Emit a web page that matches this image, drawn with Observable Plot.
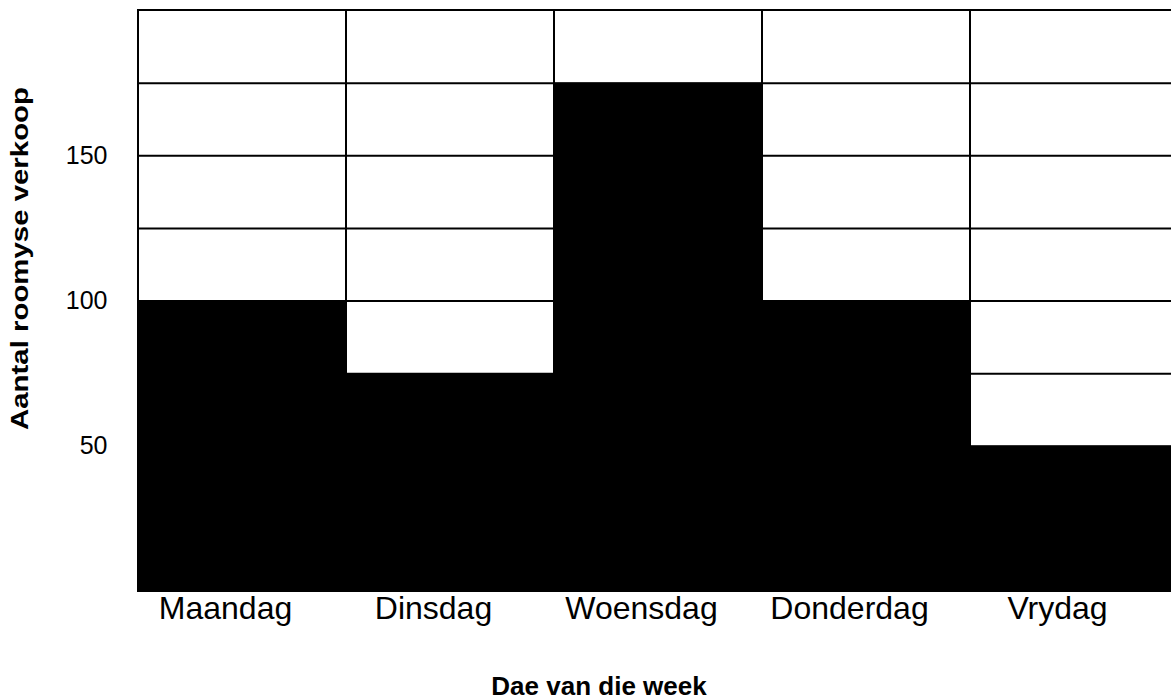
<!DOCTYPE html>
<html><head><meta charset="utf-8">
<script src="https://cdn.jsdelivr.net/npm/d3@7"></script>
<script src="https://cdn.jsdelivr.net/npm/@observablehq/plot@0.6"></script>
<style>html,body{margin:0;padding:0;background:#fff;overflow:hidden;}</style>
</head><body><div id="chart"></div>
<script>
const days = ["Maandag", "Dinsdag", "Woensdag", "Donderdag", "Vrydag"];
const sales = [100, 75, 175, 100, 50];
const yTickValues = [50, 100, 150];
const gridValues = [25, 50, 75, 100, 125, 150, 175];
const yMax = 200;
const xTitle = "Dae van die week";
const yTitle = "Aantal roomyse verkoop";

const data = days.map((d, i) => ({day: d, value: sales[i]}));

const chart = Plot.plot({
  width: 1171, height: 699,
  marginTop: 10, marginBottom: 108, marginLeft: 138, marginRight: 0,
  style: {fontFamily: "'Liberation Sans', Arial, sans-serif", background: "white", color: "black", overflow: "hidden"},
  x: {type: "band", domain: days, range: [138, 1178], padding: 0},
  y: {domain: [0, yMax]},
  marks: [
    Plot.barY(days, {x: d => d, y: yMax, fill: "white", stroke: "black", strokeWidth: 2, inset: 0}),
    Plot.gridY(gridValues, {stroke: "black", strokeOpacity: 1, strokeWidth: 2}),
    Plot.barY(data, {x: "day", y: "value", fill: "black", inset: 0}),
    Plot.axisY(yTickValues, {tickSize: 0, tickPadding: 31, fontSize: 25, label: null}),
    Plot.axisX({tickSize: 0, tickPadding: 5, fontSize: 32, dx: -17, label: null}),
    Plot.text([xTitle], {frameAnchor: "bottom", lineAnchor: "bottom", dx: -56, dy: 103, fontSize: 26, fontWeight: "bold", text: d => d}),
    Plot.text([yTitle], {frameAnchor: "left", rotate: -90, textAnchor: "start", dx: -118, dy: 129, fontSize: 24, fontWeight: "bold", text: d => d, className: "ytitle"})
  ]
});
document.getElementById("chart").appendChild(chart);
const yt = chart.querySelector(".ytitle text");
if (yt) { yt.setAttribute("textLength", 343); yt.setAttribute("lengthAdjust", "spacingAndGlyphs"); }
</script>
</body></html>
